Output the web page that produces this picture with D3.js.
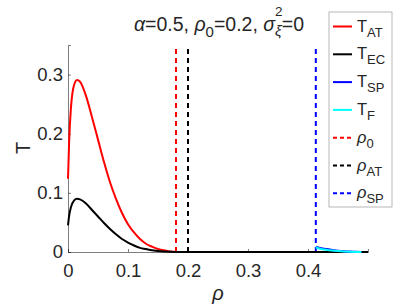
<!DOCTYPE html>
<html>
<head>
<meta charset="utf-8">
<script src="https://cdn.jsdelivr.net/npm/d3@7"></script>
<style>
  body { margin: 0; background: #fff; }
  text { font-family: "Liberation Sans", Arial, sans-serif; fill: #262626; }
</style>
</head>
<body>
<div class="chart"></div>
<script>
// size of the picture
const width = 407;
const height = 305;
const margin = {top: 45, left: 68, right: 39, bottom: 53};

// curve data
const rhoAT = [0, 0.002, 0.005, 0.01, 0.015, 0.02, 0.03, 0.04, 0.05, 0.06, 0.07, 0.08, 0.09, 0.10, 0.11, 0.12, 0.13, 0.14, 0.15, 0.16, 0.17, 0.18];
const valAT = [0.124, 0.19, 0.245, 0.282, 0.291, 0.288, 0.264, 0.228, 0.19, 0.152, 0.118, 0.09, 0.066, 0.047, 0.033, 0.022, 0.014, 0.009, 0.005, 0.003, 0.001, 0];

const rhoEC = [0, 0.002, 0.005, 0.01, 0.015, 0.02, 0.03, 0.04, 0.05, 0.06, 0.07, 0.08, 0.09, 0.10, 0.11, 0.12, 0.13, 0.14, 0.16, 0.2, 0.5];
const valEC = [0.045, 0.062, 0.076, 0.087, 0.09, 0.089, 0.082, 0.071, 0.06, 0.049, 0.039, 0.03, 0.022, 0.016, 0.011, 0.007, 0.005, 0.003, 0.001, 0, 0];

const rhoSP = [0.413, 0.42, 0.43, 0.44, 0.45, 0.46, 0.47, 0.48, 0.489];
const valSP = [0.009, 0.007, 0.005, 0.0035, 0.0022, 0.0013, 0.0007, 0.0003, 0.0001];

const rhoF = [0.413, 0.42, 0.43, 0.44, 0.45, 0.46, 0.47, 0.48, 0.489];
const valF = [0.008, 0.0055, 0.0038, 0.0025, 0.0016, 0.0009, 0.0005, 0.0002, 0];

// vertical reference lines
const refNames = ["rho0", "rhoAT", "rhoSP"];
const refValues = [0.18, 0.2, 0.413];
const refColors = ["#ff0000", "#000000", "#0000ff"];

const xTicks = [0, 0.1, 0.2, 0.3, 0.4];
const yTicks = [0, 0.1, 0.2, 0.3];

const plotWidth = width - margin.left - margin.right;
const plotHeight = height - margin.top - margin.bottom;

const xScale = d3.scaleLinear().domain([0, 0.5]).range([margin.left, margin.left + plotWidth]);
const yScale = d3.scaleLinear().domain([0, 0.35]).range([margin.top + plotHeight, margin.top]);

const svg = d3.select('.chart')
    .append('svg')
    .attr('width', width)
    .attr('height', height);

// axes, ticks point inward like matlab
const xAxis = d3.axisBottom(xScale).tickValues(xTicks).tickFormat(d3.format('')).tickSize(-3).tickPadding(12);
const yAxis = d3.axisLeft(yScale).tickValues(yTicks).tickFormat(d3.format('')).tickSize(-3).tickPadding(5);

const gx = svg.append('g')
    .attr('transform', `translate(0,${margin.top + plotHeight})`)
    .call(xAxis);
const gy = svg.append('g')
    .attr('transform', `translate(${margin.left},0)`)
    .call(yAxis);

[gx, gy].forEach(g => {
    g.select('.domain').attr('stroke', '#262626').attr('stroke-width', 0.6);
    g.selectAll('.tick line').attr('stroke', '#262626').attr('stroke-width', 0.6);
    g.selectAll('.tick text')
        .attr('font-size', 18.5)
        .attr('fill', '#262626')
        .style('font-family', '"Liberation Sans", Arial, sans-serif');
});

// dashed reference lines
refValues.forEach((v, i) => {
    svg.append('line')
        .attr('x1', xScale(v)).attr('x2', xScale(v))
        .attr('y1', yScale(0)).attr('y2', yScale(0.35))
        .attr('stroke', refColors[i])
        .attr('stroke-width', 2)
        .attr('stroke-dasharray', '5,4');
});

// curves
const line = d3.line().x(d => xScale(d[0])).y(d => yScale(d[1]));
const curves = [
    {x: rhoAT, y: valAT, color: '#ff0000'},
    {x: rhoEC, y: valEC, color: '#000000'},
    {x: rhoSP, y: valSP, color: '#0000ff'},
    {x: rhoF, y: valF, color: '#00ffff'}
];
curves.forEach(c => {
    svg.append('path')
        .datum(d3.zip(c.x, c.y))
        .attr('d', line.curve(d3.curveMonotoneX))
        .attr('fill', 'none')
        .attr('stroke', c.color)
        .attr('stroke-width', 2);
});

// axis labels
svg.append('text')
    .attr('x', 218).attr('y', 300)
    .attr('text-anchor', 'middle')
    .attr('font-size', 20)
    .attr('font-style', 'italic')
    .text('ρ');

svg.append('text')
    .attr('transform', 'translate(30,148) rotate(-90)')
    .attr('text-anchor', 'middle')
    .attr('font-size', 20)
    .text('T');

// title with sub / superscripts
const title = svg.append('text')
    .attr('x', 219).attr('y', 31)
    .attr('text-anchor', 'middle')
    .attr('font-size', 19.5);
title.append('tspan').attr('font-style', 'italic').text('α');
title.append('tspan').text('=0.5, ');
title.append('tspan').attr('font-style', 'italic').text('ρ');
title.append('tspan').attr('font-size', 15).attr('dy', 6).text('0');
title.append('tspan').attr('dy', -6).text('=0.2, ');
title.append('tspan').attr('font-style', 'italic').text('σ');
title.append('tspan').attr('font-size', 13.5).attr('dy', -15).text('2');
title.append('tspan').attr('font-size', 15).attr('font-style', 'italic').attr('dx', -7.5).attr('dy', 20).text('ξ');
title.append('tspan').attr('dy', -5).text('=0');

// legend
const legendX = 329, legendY = 12;
svg.append('rect')
    .attr('x', legendX).attr('y', legendY)
    .attr('width', 63).attr('height', 195)
    .attr('fill', '#fff')
    .attr('stroke', '#a6a6a6')
    .attr('stroke-width', 0.8);

const legendItems = [
    {main: 'T', sub: 'AT', color: '#ff0000', dash: null},
    {main: 'T', sub: 'EC', color: '#000000', dash: null},
    {main: 'T', sub: 'SP', color: '#0000ff', dash: null},
    {main: 'T', sub: 'F', color: '#00ffff', dash: null},
    {main: 'ρ', sub: '0', color: refColors[0], dash: '4,3'},
    {main: 'ρ', sub: 'AT', color: refColors[1], dash: '4,3'},
    {main: 'ρ', sub: 'SP', color: refColors[2], dash: '4,3'}
];
legendItems.forEach((d, i) => {
    const y = 26.5 + i * 27.8;
    svg.append('line')
        .attr('x1', 333).attr('x2', 352)
        .attr('y1', y).attr('y2', y)
        .attr('stroke', d.color)
        .attr('stroke-width', 2)
        .attr('stroke-dasharray', d.dash);
    const t = svg.append('text')
        .attr('x', 357).attr('y', y + 5)
        .attr('font-size', 16.5);
    t.append('tspan').attr('font-style', d.main === 'ρ' ? 'italic' : 'normal').text(d.main);
    t.append('tspan').attr('font-size', 13).attr('dy', 5).text(d.sub);
});
</script>
</body>
</html>
